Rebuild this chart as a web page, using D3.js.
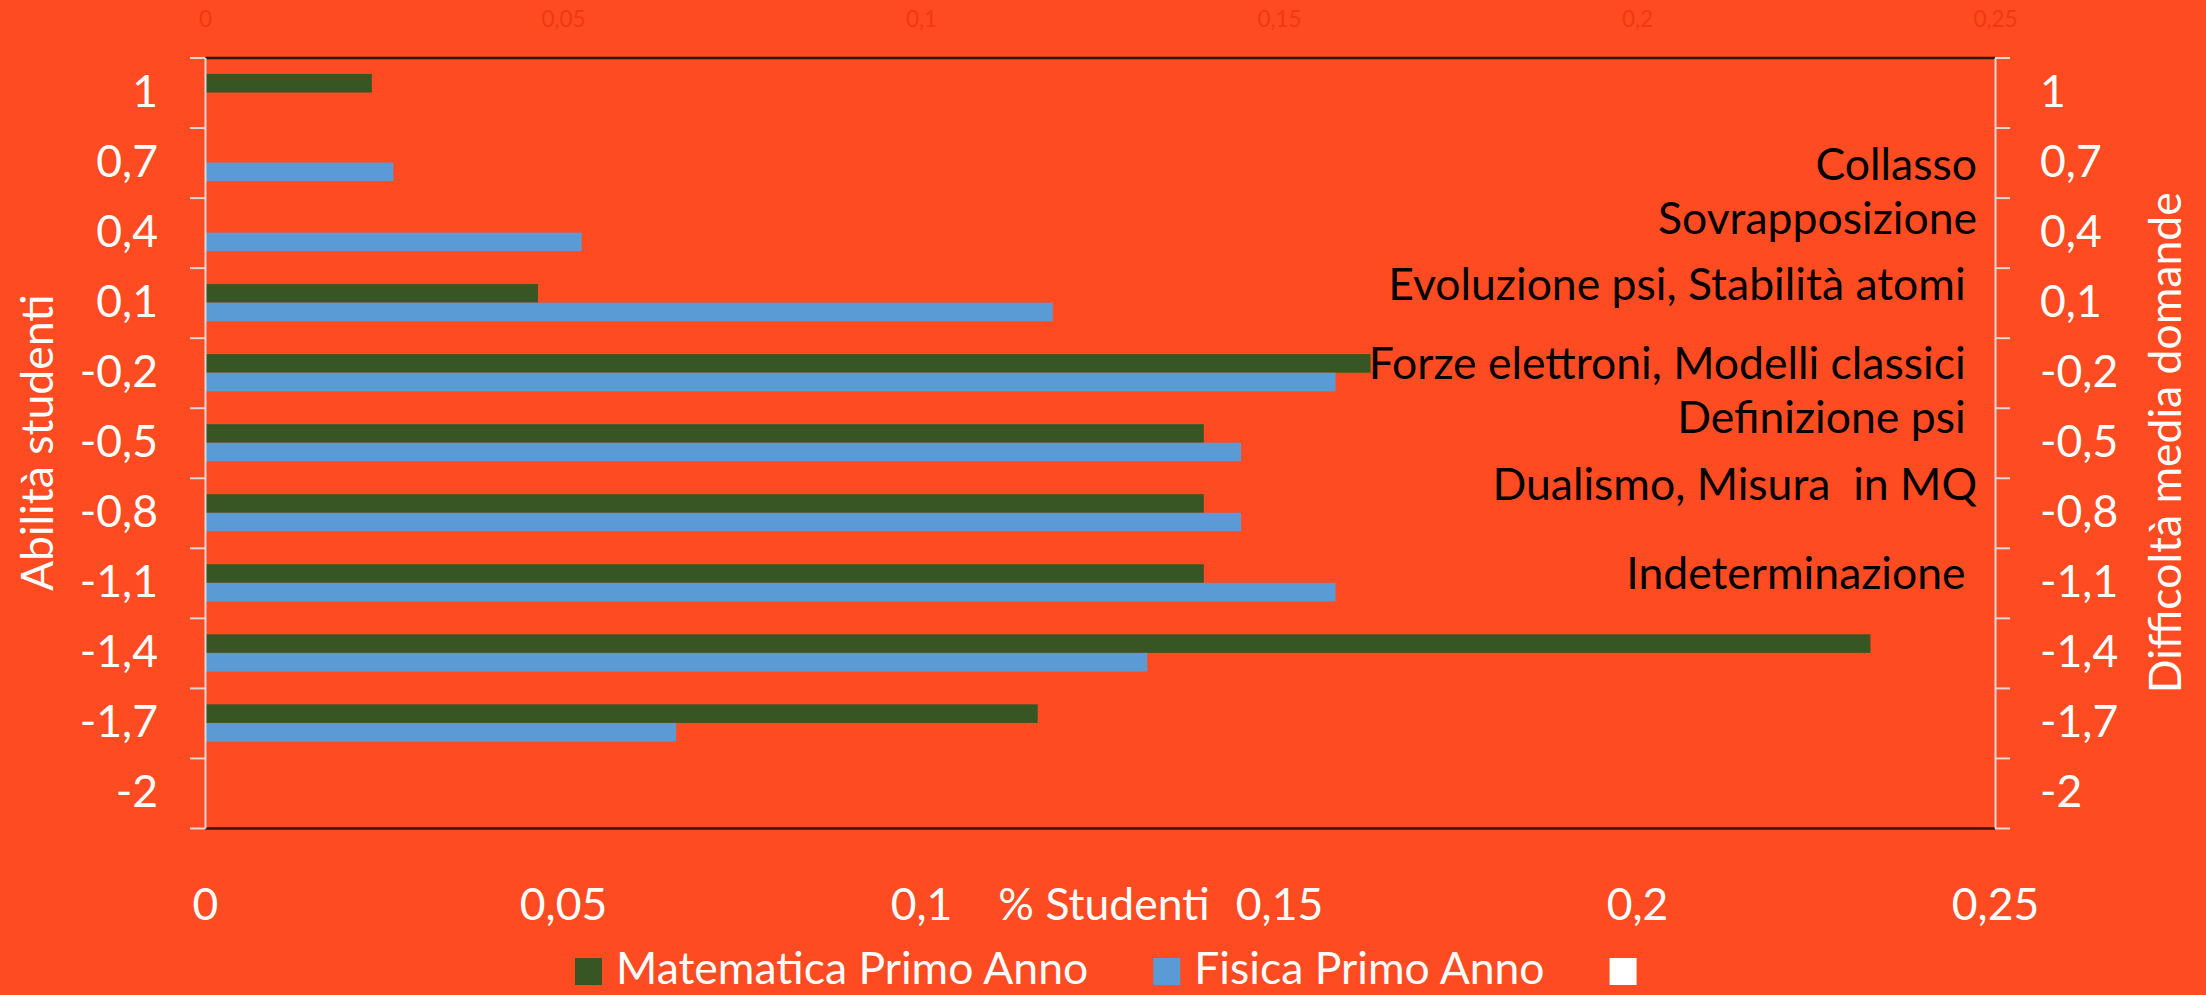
<!DOCTYPE html>
<html>
<head>
<meta charset="utf-8">
<script src="https://cdn.jsdelivr.net/npm/d3@7"></script>
<style>
  html, body { margin: 0; padding: 0; background: #ff4b21; }
  svg { display: block; }
  text { font-family: Lato, "Open Sans", sans-serif; }
</style>
</head>
<body>
<svg id="chart" width="2206" height="995"></svg>
<script>
// Ability classes (left axis) and average question difficulty classes (right axis)
const categories = ["1", "0,7", "0,4", "0,1", "-0,2", "-0,5", "-0,8", "-1,1", "-1,4", "-1,7", "-2"];
// Share of students in each ability class
const matematica = [0.0233, 0, 0, 0.0465, 0.1628, 0.1395, 0.1395, 0.1395, 0.2326, 0.1163, 0];
const fisica     = [0, 0.0263, 0.0526, 0.1184, 0.1579, 0.1447, 0.1447, 0.1579, 0.1316, 0.0658, 0];
const seriesNames = ["Matematica Primo Anno", "Fisica Primo Anno", ""];
const xTicks = [0, 0.05, 0.1, 0.15, 0.2, 0.25];
const xTickLabels = ["0", "0,05", "0,1", "0,15", "0,2", "0,25"];
// Question topics placed at their average difficulty
const topics = ["Collasso", "Sovrapposizione", "Evoluzione psi, Stabilità atomi ",
                "Forze elettroni, Modelli classici ", "Definizione psi ",
                "Dualismo, Misura  in MQ", "Indeterminazione "];
const topicDifficulty = [0.69, 0.46, 0.18, -0.16, -0.39, -0.68, -1.06];

const W = 2206, H = 995;
const m = { left: 205, right: 1995, top: 57.5, bottom: 828 };
const BG = "#ff4b21";
const colors = { mat: "#375623", fis: "#5b9bd5", empty: "#ffffff" };
const FS = 44.5;

const svg = d3.select("#chart");
svg.append("rect").attr("width", W).attr("height", H).attr("fill", BG);

const x = d3.scaleLinear().domain([0, 0.25]).range([m.left, m.right]);
const y = d3.scaleBand().domain(categories).range([m.top, m.bottom]).paddingInner(0).paddingOuter(0);
const ySub = d3.scaleBand().domain(["mat", "fis"]).range([0, y.bandwidth()])
  .paddingInner(0).paddingOuter(0.884);
const yIdx = d3.scaleLinear().domain([0, categories.length]).range([m.top, m.bottom]);
const yDiff = d3.scaleLinear().domain([1, -2])
  .range([y(categories[0]) + y.bandwidth() / 2, y(categories[categories.length - 1]) + y.bandwidth() / 2]);

const xTickFmt = (d) => xTickLabels[xTicks.indexOf(d)];

// Bars
const rows = categories.map((c, i) => ({ cat: c, mat: matematica[i], fis: fisica[i] }));
svg.append("g").attr("class", "bars")
  .selectAll("g").data(rows).join("g")
  .attr("transform", d => `translate(0,${y(d.cat)})`)
  .selectAll("rect")
  .data(d => [{ k: "mat", v: d.mat }, { k: "fis", v: d.fis }])
  .join("rect")
  .attr("x", x(0))
  .attr("y", d => ySub(d.k))
  .attr("width", d => x(d.v) - x(0))
  .attr("height", ySub.bandwidth())
  .attr("fill", d => colors[d.k]);

// Dark horizontal axis lines (bottom primary, top secondary)
const bottomAxis = svg.append("g").attr("transform", `translate(0,${m.bottom})`)
  .call(d3.axisBottom(x).tickValues(xTicks).tickFormat(xTickFmt).tickSize(0).tickSizeOuter(0));
bottomAxis.select(".domain").attr("stroke", "#3b1407").attr("stroke-width", 2.5);
bottomAxis.selectAll("text").attr("dy", null).attr("y", 92)
  .attr("fill", "#ffffff").attr("font-size", FS).attr("font-family", "Lato, sans-serif");

const topAxis = svg.append("g").attr("transform", `translate(0,${m.top})`)
  .call(d3.axisTop(x).tickValues(xTicks).tickFormat(xTickFmt).tickSize(0).tickSizeOuter(0));
topAxis.select(".domain").attr("stroke", "#2b160e").attr("stroke-width", 2.5);
topAxis.selectAll("text").attr("dy", null).attr("y", -31)
  .attr("fill", "#ef3912").attr("font-size", 22.5).attr("font-family", "Lato, sans-serif");

// X axis title
svg.append("text").attr("x", 1104).attr("y", 920).attr("text-anchor", "middle")
  .attr("fill", "#ffffff").attr("font-size", FS).text("% Studenti");

// Vertical axes: gray lines with ticks on band boundaries
function boundaryTicks(axisGen, xPos) {
  const g = svg.append("g").attr("transform", `translate(${xPos},0)`)
    .call(axisGen(yIdx).tickValues(d3.range(categories.length + 1)).tickFormat("").tickSize(15).tickSizeOuter(0));
  g.selectAll(".domain, line").attr("stroke", "#d9d9d9").attr("stroke-width", 2);
  return g;
}
boundaryTicks(d3.axisLeft, m.left);
boundaryTicks(d3.axisRight, m.right);

function bandLabels(axisGen, xPos, pad) {
  const g = svg.append("g").attr("transform", `translate(${xPos},0)`)
    .call(axisGen(y).tickSize(0).tickPadding(pad));
  g.select(".domain").remove();
  g.selectAll("text").attr("fill", "#ffffff").attr("font-size", FS).attr("font-family", "Lato, sans-serif");
  return g;
}
bandLabels(d3.axisLeft, m.left, 47);
bandLabels(d3.axisRight, m.right, 45);

// Y axis titles
svg.append("text").attr("transform", `translate(53,${(m.top + m.bottom) / 2}) rotate(-90)`)
  .attr("text-anchor", "middle").attr("fill", "#ffffff").attr("font-size", FS)
  .text("Abilità studenti");
svg.append("text").attr("transform", `translate(2181,${(m.top + m.bottom) / 2}) rotate(-90)`)
  .attr("text-anchor", "middle").attr("fill", "#ffffff").attr("font-size", FS)
  .text("Difficoltà media domande");

// Topic annotations
svg.append("g").selectAll("text").data(topics).join("text")
  .attr("x", 1977)
  .attr("y", (d, i) => yDiff(topicDifficulty[i]))
  .attr("dy", "0.35em")
  .attr("text-anchor", "end")
  .style("white-space", "pre")
  .attr("fill", "#000000").attr("font-size", FS)
  .text(d => d);

// Legend
const legendKeys = ["mat", "fis", "empty"];
let lx = 575;
const legend = svg.append("g");
seriesNames.forEach((name, i) => {
  legend.append("rect").attr("x", lx).attr("y", 958).attr("width", 27).attr("height", 27)
    .attr("fill", colors[legendKeys[i]]);
  const t = legend.append("text").attr("x", lx + 41).attr("y", 984)
    .attr("fill", "#ffffff").attr("font-size", FS).text(name);
  lx += 41 + t.node().getComputedTextLength() + 65;
});
</script>
</body>
</html>
